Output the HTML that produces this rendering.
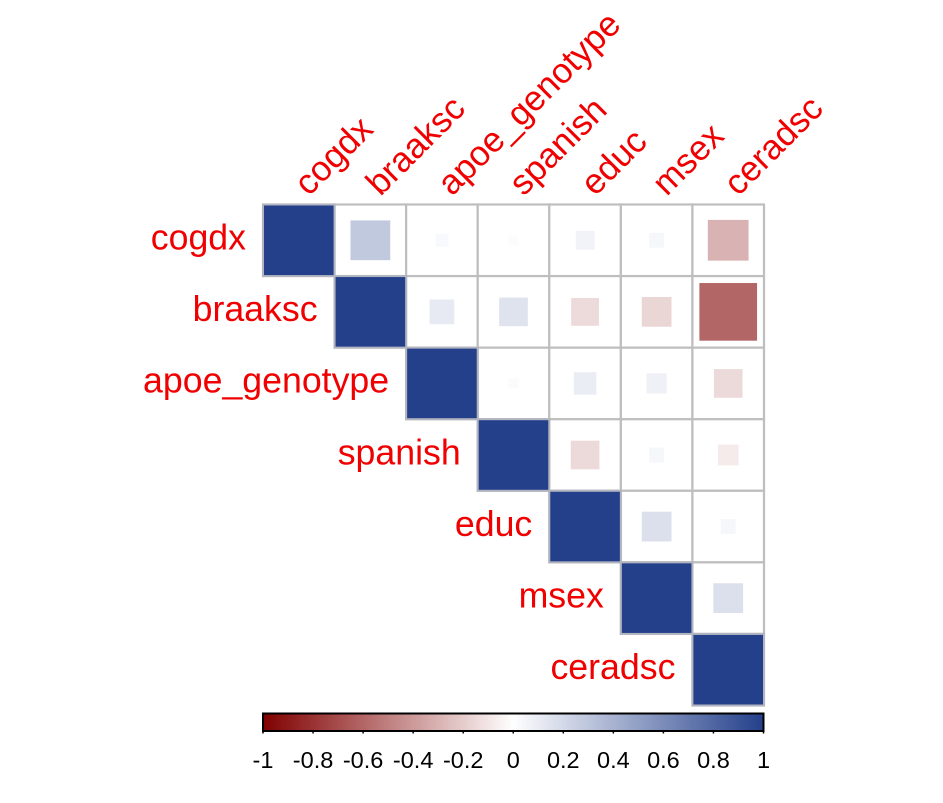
<!DOCTYPE html>
<html>
<head>
<meta charset="utf-8">
<style>
html,body{margin:0;padding:0;background:#fff;width:943px;height:803px;overflow:hidden}
svg{display:block;font-family:"Liberation Sans",Arial,sans-serif}
</style>
</head>
<body>
<svg id="chart" width="943" height="803" viewBox="0 0 943 803" xmlns="http://www.w3.org/2000/svg"></svg>
<script>
const variables = ["cogdx","braaksc","apoe_genotype","spanish","educ","msex","ceradsc"];
const corrRow0 = [1, 0.285, 0.03, 0.018, 0.064, 0.04, -0.30];
const corrRow1 = [1, 0.11, 0.148, -0.14, -0.16, -0.60];
const corrRow2 = [1, -0.018, 0.092, 0.074, -0.148];
const corrRow3 = [1, -0.148, 0.04, -0.078];
const corrRow4 = [1, 0.16, 0.04];
const corrRow5 = [1, 0.16];
const corrRow6 = [1];
const tickLabels = ["-1","-0.8","-0.6","-0.4","-0.2","0","0.2","0.4","0.6","0.8","1"];
const tickValues = [-1,-0.8,-0.6,-0.4,-0.2,0,0.2,0.4,0.6,0.8,1];

const NS = "http://www.w3.org/2000/svg";
const svg = document.getElementById("chart");
const rows = [corrRow0,corrRow1,corrRow2,corrRow3,corrRow4,corrRow5,corrRow6];
const plotLeft = 263, plotTop = 204.5, plotSize = 501;
const cell = plotSize / variables.length;
const barLeft = 263, barRight = 763.5, barTop = 713.5, barBottom = 731;

function xPos(col){ return plotLeft + col * cell; }
function yPos(row){ return plotTop + row * cell; }
function barX(v){ return barLeft + (v + 1) / 2 * (barRight - barLeft); }
function colorOf(v){
  const end = v >= 0 ? [36,64,139] : [128,0,0];
  const t = Math.abs(v);
  const c = end.map(e => Math.round(255 + (e - 255) * t));
  return "rgb(" + c.join(",") + ")";
}
function make(tag, attrs){
  const el = document.createElementNS(NS, tag);
  for (const k in attrs) el.setAttribute(k, attrs[k]);
  svg.appendChild(el);
  return el;
}

/* colour bar */
for (let i = 0; i < 200; i++) {
  const v0 = -1 + i / 100;
  const seg = make("rect", {x: barX(v0), y: barTop, width: (barRight - barLeft) / 200 + 0.6, height: barBottom - barTop, fill: colorOf(v0 + 0.005)});
  
  
}
const barFrame = make("rect", {x: barLeft, y: barTop, width: barRight - barLeft, height: barBottom - barTop, fill: "none", stroke: "#000", "stroke-width": 2});



tickValues.forEach((v, i) => {
  const tick = make("line", {x1: barX(v), x2: barX(v), y1: barBottom, y2: barBottom + 2.5, stroke: "#000", "stroke-width": 1.5});
  
  
  const label = make("text", {x: barX(v), y: 768, "text-anchor": "middle", "font-size": 23.5, fill: "#000"});
  label.textContent = tickLabels[i];
  
  
});

/* cells */
rows.forEach((vals, r) => {
  vals.forEach((v, k) => {
    const c = r + k;
    const bg = make("rect", {x: xPos(c), y: yPos(r), width: cell, height: cell, fill: "#fff", stroke: "#bebebe", "stroke-width": 2.2});
    
    
  });
});
rows.forEach((vals, r) => {
  vals.forEach((v, k) => {
    const c = r + k;
    if (k === 0) {
      const diag = make("rect", {x: xPos(c), y: yPos(r), width: cell, height: cell, fill: colorOf(v), stroke: "#b2b5c0", "stroke-width": 2});
      
      
      return;
    }
    const side = Math.sqrt(Math.abs(v)) * cell * 1.04;
    const sq = make("rect", {
      x: xPos(c) + (cell - side) / 2,
      y: yPos(r) + (cell - side) / 2,
      width: side, height: side, fill: colorOf(v)
    });
    
    
  });
});

/* labels */
variables.forEach((name, i) => {
  const left = make("text", {x: xPos(i) - 17, y: yPos(i) + cell / 2 + 9.3, "text-anchor": "end", "font-size": 35.7, fill: "#f00000"});
  left.textContent = name;
  
  
  const px = xPos(i) + cell / 2 + 10, py = plotTop - 7.5;
  const top = make("text", {x: px, y: py, "text-anchor": "start", "font-size": 35, fill: "#f00000", transform: "rotate(-45 " + px + " " + py + ")"});
  top.textContent = name;
  
  
});
</script>
</body>
</html>
